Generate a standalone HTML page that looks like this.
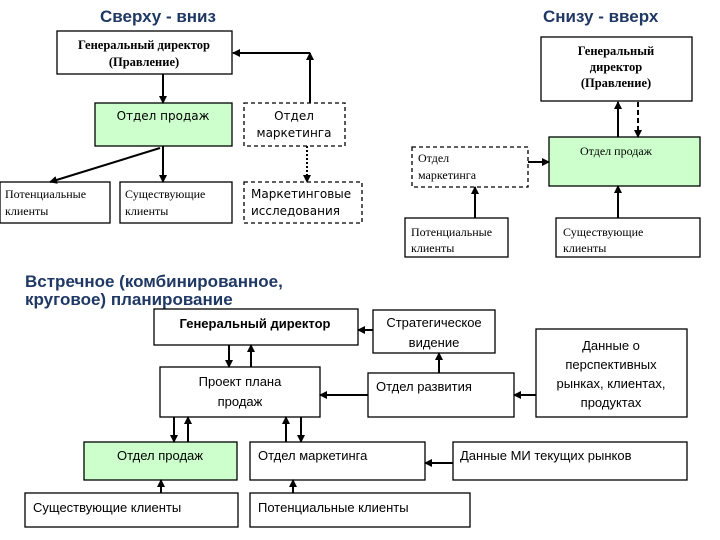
<!DOCTYPE html>
<html><head><meta charset="utf-8"><style>
body{margin:0;background:#fff}
svg{display:block}
.t{font-family:"Liberation Sans","Noto Sans CJK SC",sans-serif;font-weight:bold;fill:#1f3864;font-size:17px}
.s{font-family:"Liberation Serif","Noto Serif CJK SC",serif;font-size:12px;fill:#000}
.sb{font-family:"Liberation Serif","Noto Serif CJK SC",serif;font-size:12.5px;font-weight:bold;fill:#000}
.a{font-family:"DejaVu Sans","Liberation Sans",sans-serif;font-size:12px;fill:#000}
.b{font-family:"Liberation Sans","Noto Sans CJK SC",sans-serif;font-size:13px;fill:#000}
rect{stroke:#000;stroke-width:1.3;fill:#fff}
.g{fill:#ccffcc}
.d{stroke-dasharray:4,3}
line,polyline{stroke:#000;stroke-width:2;fill:none}
</style></head><body>
<svg width="720" height="540" viewBox="0 0 720 540" xmlns="http://www.w3.org/2000/svg">
<defs><marker id="m" markerWidth="8" markerHeight="8" refX="7" refY="4" orient="auto" markerUnits="userSpaceOnUse"><path d="M0,0L8,4L0,8z" fill="#000"/></marker></defs>
<text class="t" x="100" y="22">Сверху - вниз</text>
<text class="t" x="543" y="22">Снизу - вверх</text>
<!-- top-left -->
<rect x="57" y="31" width="175" height="43"/>
<text class="sb" x="144" y="49" text-anchor="middle">Генеральный директор</text>
<text class="sb" x="144" y="66" text-anchor="middle">(Правление)</text>
<rect class="g" x="95" y="103" width="137" height="43"/>
<text class="a" x="163" y="120" text-anchor="middle">Отдел  продаж</text>
<rect class="d" x="244" y="103" width="101" height="43"/>
<text class="a" x="294" y="120" text-anchor="middle">Отдел</text>
<text class="a" x="294" y="137" text-anchor="middle">маркетинга</text>
<rect x="0" y="182" width="110" height="41"/>
<text class="s" x="5" y="198">Потенциальные</text><text class="s" x="5" y="215">клиенты</text>
<rect x="120" y="182" width="112" height="41"/>
<text class="s" x="125" y="198">Существующие</text><text class="s" x="125" y="215">клиенты</text>
<rect class="d" x="244" y="182" width="118" height="41"/>
<text class="a" x="251" y="198">Маркетинговые</text><text class="a" x="251" y="215">исследования</text>
<line x1="163" y1="74" x2="163" y2="103" marker-end="url(#m)"/>
<line x1="163" y1="146" x2="163" y2="182" marker-end="url(#m)"/>
<line x1="160" y1="148" x2="50" y2="182" stroke-width="1.5" marker-end="url(#m)"/>
<line x1="310" y1="103" x2="310" y2="53" stroke-width="1.5" marker-end="url(#m)"/>
<line x1="310" y1="53" x2="233" y2="53" stroke-width="1.5" marker-end="url(#m)"/>
<line x1="307" y1="146" x2="307" y2="182" stroke-dasharray="2,2" marker-end="url(#m)"/>
<!-- top-right -->
<rect x="541" y="37" width="151" height="64"/>
<text class="sb" x="616" y="55" text-anchor="middle">Генеральный</text>
<text class="sb" x="616" y="71" text-anchor="middle">директор</text>
<text class="sb" x="616" y="87" text-anchor="middle">(Правление)</text>
<rect class="g" x="549" y="137" width="151" height="49"/>
<text class="s" x="616" y="155" text-anchor="middle">Отдел продаж</text>
<rect class="d" x="412" y="147" width="116" height="40"/>
<text class="s" x="418" y="162">Отдел</text><text class="s" x="418" y="179">маркетинга</text>
<rect x="405" y="218" width="103" height="39"/>
<text class="s" x="411" y="236">Потенциальные</text><text class="s" x="411" y="252">клиенты</text>
<rect x="556" y="218" width="144" height="39"/>
<text class="s" x="563" y="236">Существующие</text><text class="s" x="563" y="252">клиенты</text>
<line x1="618" y1="137" x2="618" y2="102" marker-end="url(#m)"/>
<line x1="638" y1="102" x2="638" y2="137" stroke-width="2.5" stroke-dasharray="5,3" marker-end="url(#m)"/>
<line x1="528" y1="162" x2="549" y2="162" marker-end="url(#m)"/>
<line x1="475" y1="218" x2="475" y2="187" marker-end="url(#m)"/>
<line x1="618" y1="218" x2="618" y2="186" marker-end="url(#m)"/>
<!-- bottom -->
<text class="t" x="25" y="287">Встречное (комбинированное,</text>
<text class="t" x="25" y="305">круговое) планирование</text>
<rect x="154" y="309" width="204" height="36"/>
<text class="b" x="255" y="328" text-anchor="middle" font-weight="bold">Генеральный директор</text>
<rect x="373" y="310" width="122" height="43"/>
<text class="b" x="434" y="327" text-anchor="middle">Стратегическое</text>
<text class="b" x="434" y="347" text-anchor="middle">видение</text>
<rect x="536" y="329" width="151" height="88"/>
<text class="b" x="611" y="350" text-anchor="middle">Данные о</text>
<text class="b" x="611" y="369" text-anchor="middle">перспективных</text>
<text class="b" x="611" y="388" text-anchor="middle">рынках, клиентах,</text>
<text class="b" x="611" y="407" text-anchor="middle">продуктах</text>
<rect x="160" y="367" width="160" height="50"/>
<text class="b" x="240" y="386" text-anchor="middle">Проект плана</text>
<text class="b" x="240" y="406" text-anchor="middle">продаж</text>
<rect x="368" y="373" width="146" height="44"/>
<text class="b" x="376" y="391">Отдел развития</text>
<rect class="g" x="84" y="442" width="153" height="38"/>
<text class="b" x="160" y="460" text-anchor="middle">Отдел продаж</text>
<rect x="250" y="442" width="175" height="38"/>
<text class="b" x="258" y="460">Отдел маркетинга</text>
<rect x="453" y="442" width="234" height="38"/>
<text class="b" x="460" y="460">Данные МИ текущих рынков</text>
<rect x="25" y="493" width="213" height="34"/>
<text class="b" x="33" y="512">Существующие клиенты</text>
<rect x="250" y="493" width="220" height="34"/>
<text class="b" x="258" y="512">Потенциальные клиенты</text>
<line x1="229" y1="345" x2="229" y2="367" stroke-width="1.5" marker-end="url(#m)"/>
<line x1="251" y1="367" x2="251" y2="345" marker-end="url(#m)"/>
<line x1="373" y1="330" x2="358" y2="330" marker-end="url(#m)"/>
<line x1="439" y1="373" x2="439" y2="353" marker-end="url(#m)"/>
<line x1="368" y1="395" x2="320" y2="395" stroke-width="1.5" marker-end="url(#m)"/>
<line x1="536" y1="395" x2="514" y2="395" stroke-width="1.5" marker-end="url(#m)"/>
<line x1="174" y1="417" x2="174" y2="442" stroke-width="1.5" marker-end="url(#m)"/>
<line x1="188" y1="442" x2="188" y2="417" stroke-width="1.5" marker-end="url(#m)"/>
<line x1="286" y1="442" x2="286" y2="417" marker-end="url(#m)"/>
<line x1="301" y1="417" x2="301" y2="442" marker-end="url(#m)"/>
<line x1="453" y1="463" x2="425" y2="463" stroke-width="1.5" marker-end="url(#m)"/>
<line x1="161" y1="493" x2="161" y2="480" marker-end="url(#m)"/>
<line x1="293" y1="493" x2="293" y2="480" stroke-width="1.5" marker-end="url(#m)"/>
</svg>
</body></html>
